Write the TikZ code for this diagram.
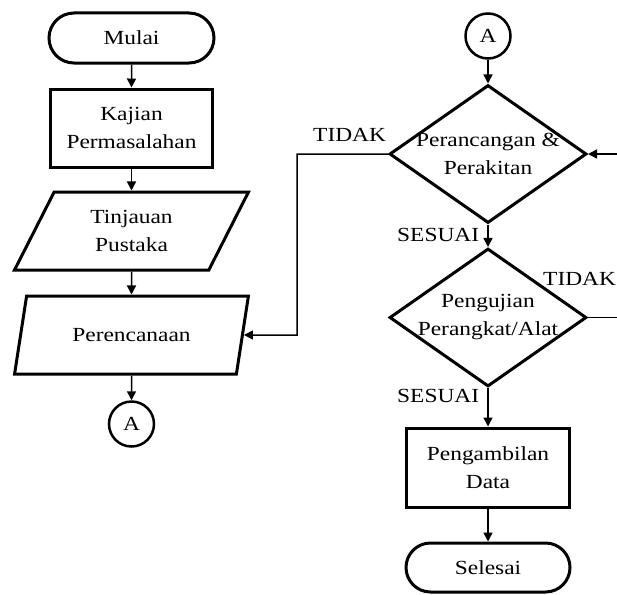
\documentclass[tikz,border=0pt]{standalone}
\usepackage{fontspec}
\setmainfont{Liberation Serif}[FakeStretch=1.17]
\usetikzlibrary{shapes.geometric,shapes.misc,arrows.meta}
\begin{document}
\begin{tikzpicture}[x=1pt,y=-1pt,
 txt/.style={align=center, font=\fontsize{20}{28}\selectfont, inner sep=0pt},
 base/.style={txt, draw, line width=3pt},
 term/.style={base, rounded rectangle, minimum width=165pt, minimum height=50pt},
 proc/.style={base, rectangle, minimum width=162pt, minimum height=78pt},
 io/.style={base, trapezium, trapezium left angle=63, trapezium right angle=117, trapezium stretches=true, minimum width=234pt, minimum height=78pt},
 dec/.style={draw, line width=3pt, diamond, minimum width=197pt, minimum height=138pt, inner sep=0pt},
 conn/.style={base, circle, minimum size=45pt, line width=2.5pt},
 lbl/.style={font=\fontsize{20}{28}\selectfont, inner sep=0pt, anchor=base west},
 arr/.style={line width=1.5pt, -{Triangle[length=9pt,width=9pt]}},
 ln/.style={line width=1.5pt}
]
\useasboundingbox (0,0) rectangle (617,594);
% left column
\node[term] (mulai) at (131.5,38) {Mulai};
\node[proc] (kaj) at (131.5,128) {Kajian\\Permasalahan};
\node[io] (tin) at (131.5,231) {Tinjauan\\Pustaka};
\node[io] (per) at (131.5,335) {Perencanaan};
\node[conn] (a1) at (131.5,424) {A};
% right column
\node[conn] (a2) at (488,36) {A};
\node[dec, label={[txt]center:{Perancangan \&\\Perakitan}}] (d1) at (488,154) {};
\node[dec, label={[txt]center:{Pengujian\\Perangkat/Alat}}] (d2) at (488,317.5) {};
\node[proc, minimum width=163pt, minimum height=79pt] (data) at (488,467.5) {Pengambilan\\Data};
\node[term, minimum width=164pt, minimum height=49pt] (sel) at (488,567.5) {Selesai};
% labels
\node[lbl] (t1) at (313,141.7) {TIDAK};
\node[lbl] (s1) at (397,241.5) {SESUAI};
\node[lbl] (t2) at (543,285.7) {TIDAK};
\node[lbl] (s2) at (397,402.7) {SESUAI};
% connectors
\draw[arr] (mulai) -- (kaj);
\draw[arr] (kaj) -- (tin);
\draw[arr] (tin) -- (per);
\draw[arr] (per) -- (a1);
\draw[arr] (a2) -- (d1);
\draw[arr] (d1) -- (d2);
\draw[arr] (d2) -- (data);
\draw[arr] (data) -- (sel);
\coordinate (fb) at (297,335);
\draw[arr] (d1.west) -| (fb) -- (per.east);
\coordinate (r1) at (617,154);
\draw[arr] (r1) -- (d1.east);
\coordinate (r2) at (617,317.5);
\draw[ln] (d2.east) -- (r2);
\end{tikzpicture}
\end{document}
